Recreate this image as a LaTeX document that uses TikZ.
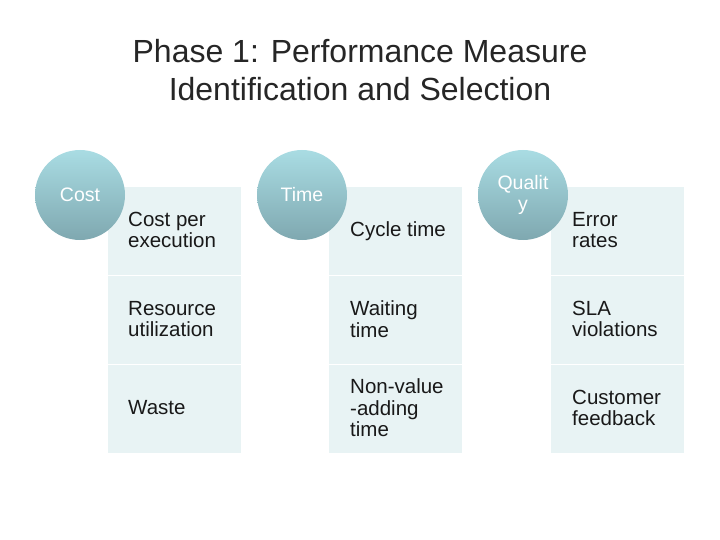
\documentclass[tikz,border=0pt]{standalone}
\usepackage{fontspec}
\setmainfont{Liberation Sans}
\begin{document}
\begin{tikzpicture}[x=1pt,y=-1pt,
  cell/.style={fill=cellc,draw=white,line width=1pt,minimum width=134pt,minimum height=89pt,anchor=north west,inner sep=0pt},
  lbl/.style={font=\fontsize{20.5}{21.5}\selectfont,align=left,anchor=west,inner sep=0pt,text=black!90},
  circ/.style={circle,minimum size=90pt,inner sep=0pt,top color=circt,bottom color=circb,text=white,font=\fontsize{19.5}{21}\selectfont,align=center}]
\definecolor{cellc}{HTML}{E8F3F4}
\definecolor{circt}{HTML}{A9DCE3}
\definecolor{circb}{HTML}{7FA8B0}
\useasboundingbox (0,0) rectangle (720,540);
\node (title) at (360,70) [align=center,font=\fontsize{32}{38}\selectfont,text=black!85] {Phase 1: Performance Measure\\Identification and Selection};
\foreach \c/\x in {a/107,b/328,c/550}{
  \foreach \r/\y in {1/186,2/275,3/364}{
    \node[cell] (\c\r) at (\x,\y) {};
  }
}
\node[circ] (cost) at (80,195) {Cost};
\node[circ] (time) at (302,195) {Time};
\node[circ] (qual) at (523,195) {Qualit\\y};
\node[lbl] (t1) at (128,230) {Cost per\\execution};
\node[lbl] (t2) at (128,319) {Resource\\utilization};
\node[lbl] (t3) at (128,408) {Waste};
\node[lbl] (t4) at (350,231) {Cycle time};
\node[lbl] (t5) at (350,319) {Waiting\\time};
\node[lbl] (t6) at (350,408) {Non-value\\-adding\\time};
\node[lbl] (t7) at (572,230) {Error\\rates};
\node[lbl] (t8) at (572,319) {SLA\\violations};
\node[lbl] (t9) at (572,408) {Customer\\feedback};
\end{tikzpicture}
\end{document}
